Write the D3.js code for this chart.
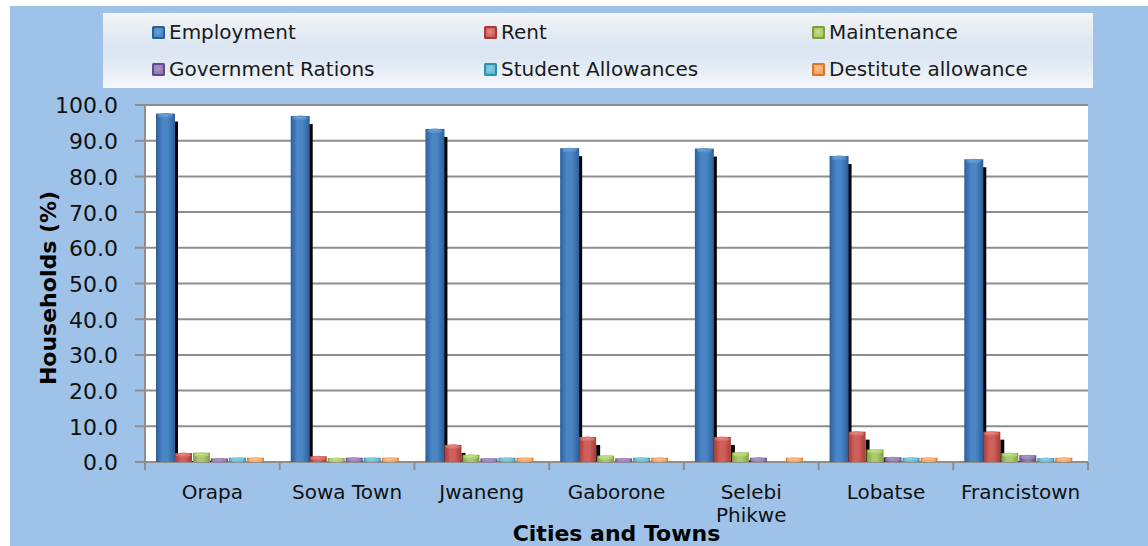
<!DOCTYPE html>
<html>
<head>
<meta charset="utf-8">
<script src="https://cdn.jsdelivr.net/npm/d3@7"></script>
<style>
  html, body { margin: 0; padding: 0; background: #ffffff; }
  svg { display: block; }
</style>
</head>
<body>
<svg id="chart" width="1148" height="546"></svg>
<script>
// Source of household income by city / town (% of households)
const categories = ["Orapa", "Sowa Town", "Jwaneng", "Gaborone", "Selebi\nPhikwe", "Lobatse", "Francistown"];
const seriesNames = ["Employment", "Rent", "Maintenance", "Government Rations", "Student Allowances", "Destitute allowance"];
const employment = [97.6, 96.9, 93.3, 87.9, 87.8, 85.7, 84.8];
const rent = [2.5, 1.6, 4.8, 7.0, 7.0, 8.5, 8.5];
const maintenance = [2.6, 1.1, 2.0, 1.8, 2.7, 3.5, 2.5];
const govRations = [1.0, 1.2, 1.0, 1.0, 1.2, 1.3, 1.9];
const studentAllowances = [1.2, 1.2, 1.2, 1.2, 0, 1.2, 1.1];
const destituteAllowance = [1.2, 1.2, 1.2, 1.2, 1.2, 1.2, 1.2];
const yTicks = [0, 10, 20, 30, 40, 50, 60, 70, 80, 90, 100];

const seriesValues = [employment, rent, maintenance, govRations, studentAllowances, destituteAllowance];
const colors = [
  { dark: "#2c5f99", mid: "#4a86c6", light: "#6fa3d8" },
  { dark: "#a83a37", mid: "#d0605c", light: "#e58985" },
  { dark: "#7f9e3c", mid: "#a9c96a", light: "#c6df8f" },
  { dark: "#66498a", mid: "#9079b2", light: "#ab9ac6" },
  { dark: "#2f91ab", mid: "#5fbad3", light: "#8fd0e1" },
  { dark: "#d9772d", mid: "#f8a460", light: "#fbc08e" }
];

const svg = d3.select("#chart");
const W = 1148, H = 546;
const plot = { left: 145, right: 1088, top: 105, bottom: 462 };

const defs = svg.append("defs");
colors.forEach((c, i) => {
  const g = defs.append("linearGradient").attr("id", "bar" + i)
    .attr("x1", "0%").attr("x2", "100%").attr("y1", "0%").attr("y2", "0%");
  g.append("stop").attr("offset", "0%").attr("stop-color", c.dark);
  g.append("stop").attr("offset", "35%").attr("stop-color", c.mid);
  g.append("stop").attr("offset", "60%").attr("stop-color", c.mid);
  g.append("stop").attr("offset", "100%").attr("stop-color", c.dark);
  const cap = defs.append("radialGradient").attr("id", "cap" + i)
    .attr("cx", "45%").attr("cy", "40%").attr("r", "60%");
  cap.append("stop").attr("offset", "0%").attr("stop-color", c.light);
  cap.append("stop").attr("offset", "100%").attr("stop-color", c.mid);
});
const lg = defs.append("linearGradient").attr("id", "legendBg")
  .attr("x1", "0%").attr("x2", "0%").attr("y1", "0%").attr("y2", "100%");
lg.append("stop").attr("offset", "0%").attr("stop-color", "#f4f4f5");
lg.append("stop").attr("offset", "40%").attr("stop-color", "#dde7f3");
lg.append("stop").attr("offset", "60%").attr("stop-color", "#dde7f3");
lg.append("stop").attr("offset", "100%").attr("stop-color", "#f6f8fb");

// page background
svg.append("rect").attr("x", 10).attr("y", 6).attr("width", W - 10).attr("height", H - 6)
  .attr("fill", "#9fc3e8");

// legend box
svg.append("rect").attr("x", 103).attr("y", 13).attr("width", 990).attr("height", 75)
  .attr("fill", "url(#legendBg)");

const legendCols = [152, 484, 812];
const legendRows = [32, 69];
seriesNames.forEach((name, i) => {
  const lx = legendCols[i % 3], ly = legendRows[Math.floor(i / 3)];
  const g = svg.append("g").attr("transform", `translate(${lx},${ly})`);
  g.append("rect").attr("x", 0).attr("y", -6).attr("width", 13).attr("height", 13)
    .attr("rx", 1.5).attr("fill", colors[i].dark);
  g.append("rect").attr("x", 2).attr("y", -4).attr("width", 9).attr("height", 9)
    .attr("fill", "url(#cap" + i + ")");
  g.append("text").attr("x", 17).attr("y", 0).attr("dy", "0.35em")
    .attr("font-family", "DejaVu Sans").attr("font-size", 20).attr("fill", "#1a1a1a")
    .text(name);
});

// plot area
svg.append("rect").attr("x", plot.left).attr("y", plot.top)
  .attr("width", plot.right - plot.left).attr("height", plot.bottom - plot.top)
  .attr("fill", "#ffffff");

const x = d3.scaleBand().domain(categories).range([plot.left, plot.right]).padding(0);
const y = d3.scaleLinear().domain([0, 100]).range([plot.bottom, plot.top]);
const groupOffset = 12;
const barStep = 18;
const xs = d3.scaleBand().domain(d3.range(seriesNames.length))
  .range([groupOffset, groupOffset + barStep * seriesNames.length]).padding(0);

// gridlines
svg.append("g").selectAll("line").data(yTicks).join("line")
  .attr("x1", plot.left - 10).attr("x2", plot.right)
  .attr("y1", d => y(d)).attr("y2", d => y(d))
  .attr("stroke", "#8e8e8e").attr("stroke-width", 2);

// y axis
const yAxis = d3.axisLeft(y).tickValues(yTicks).tickFormat(d3.format(".1f")).tickSize(0).tickPadding(0);
const yg = svg.append("g").attr("transform", `translate(118,0)`).call(yAxis);
yg.select(".domain").remove();
yg.selectAll("text").attr("font-family", "DejaVu Sans").attr("font-size", 22)
  .attr("fill", "#111").attr("dy", "0.36em");
svg.append("line").attr("x1", plot.left).attr("x2", plot.left)
  .attr("y1", plot.top).attr("y2", plot.bottom + 8)
  .attr("stroke", "#8e8e8e").attr("stroke-width", 2);

// x axis
const xAxis = d3.axisBottom(x).tickSize(0).tickFormat("");
const xg = svg.append("g").attr("transform", `translate(0,${plot.bottom})`).call(xAxis);
xg.select(".domain").remove();
const boundaries = categories.map(c => x(c)).concat([plot.right]);
svg.append("g").selectAll("line").data(boundaries).join("line")
  .attr("x1", d => d).attr("x2", d => d)
  .attr("y1", plot.bottom).attr("y2", plot.bottom + 8)
  .attr("stroke", "#8e8e8e").attr("stroke-width", 2);

const catLabels = svg.append("g");
categories.forEach(c => {
  const lines = c.split("\n");
  const t = catLabels.append("text")
    .attr("x", x(c) + x.bandwidth() / 2).attr("y", 499)
    .attr("text-anchor", "middle")
    .attr("font-family", "DejaVu Sans").attr("font-size", 20).attr("fill", "#111");
  lines.forEach((ln, k) => t.append("tspan").attr("x", x(c) + x.bandwidth() / 2)
    .attr("dy", k === 0 ? 0 : 23).text(ln));
});

// bars: depth shadow first, then faces and caps
const barData = [];
categories.forEach((c, ci) => {
  seriesValues.forEach((vals, si) => {
    barData.push({ c, si, v: vals[ci] });
  });
});
const shown = barData.filter(d => d.v > 0);
const bw = xs.bandwidth();

svg.append("g").selectAll("rect").data(shown).join("rect")
  .attr("x", d => x(d.c) + xs(d.si) + bw - 1)
  .attr("y", d => Math.min(y(d.v) + 8, plot.bottom))
  .attr("width", 4)
  .attr("height", d => Math.max(0, plot.bottom - Math.min(y(d.v) + 8, plot.bottom)))
  .attr("fill", "#050505");

const faces = svg.append("g");
faces.selectAll("rect.face").data(shown).join("rect").attr("class", "face")
  .attr("x", d => x(d.c) + xs(d.si) + (d.si === 0 ? -1 : 0))
  .attr("y", d => y(d.v))
  .attr("width", d => bw + (d.si === 0 ? 2 : 0) - 1)
  .attr("height", d => plot.bottom - y(d.v))
  .attr("fill", d => `url(#bar${d.si})`);
faces.selectAll("ellipse.cap").data(shown).join("ellipse").attr("class", "cap")
  .attr("cx", d => x(d.c) + xs(d.si) + bw / 2 - 0.5)
  .attr("cy", d => y(d.v) + 2)
  .attr("rx", d => bw / 2 - 1.5)
  .attr("ry", 2.5)
  .attr("fill", d => `url(#cap${d.si})`);

// axis titles
svg.append("text").attr("transform", "translate(56,288) rotate(-90)")
  .attr("text-anchor", "middle")
  .attr("font-family", "DejaVu Sans").attr("font-weight", "bold").attr("font-size", 22)
  .attr("fill", "#000").text("Households (%)");
svg.append("text").attr("x", (plot.left + plot.right) / 2).attr("y", 541)
  .attr("text-anchor", "middle")
  .attr("font-family", "DejaVu Sans").attr("font-weight", "bold").attr("font-size", 22)
  .attr("fill", "#000").text("Cities and Towns");
</script>
</body>
</html>
